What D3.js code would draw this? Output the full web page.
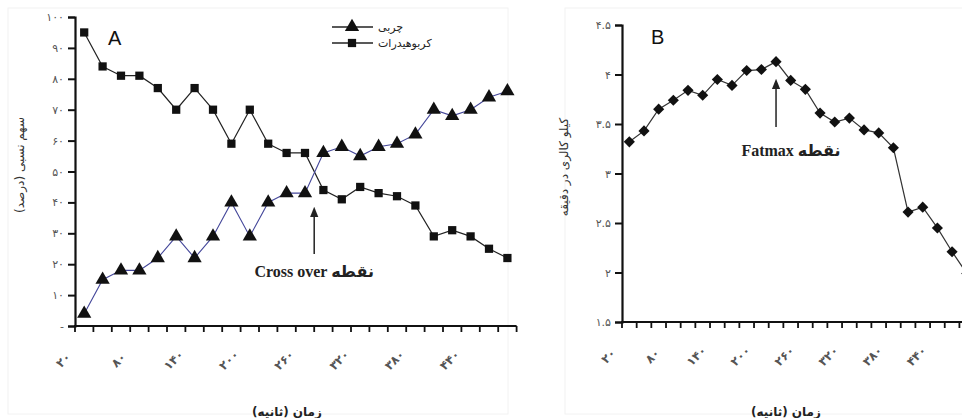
<!DOCTYPE html>
<html>
<head>
<meta charset="utf-8">
<script src="https://cdn.jsdelivr.net/npm/d3@7"></script>
<style>
  body { margin: 0; background: #fff; }
  svg { display: block; }
</style>
</head>
<body>
<svg width="962" height="418"></svg>
<script>
// time categories (seconds)
var seconds = [20, 40, 60, 80, 100, 120, 140, 160, 180, 200, 220, 240,
               260, 280, 300, 320, 340, 360, 380, 400, 420, 440, 460, 480];
var shownSeconds = [20, 80, 140, 200, 260, 320, 380, 440];

// panel A - relative share (%)
var fatShare = [4, 15, 18, 18, 22, 29, 22, 29, 40, 29, 40, 43,
                43, 56, 58, 55, 58, 59, 62, 70, 68, 70, 74, 76];
var choShare = [95, 84, 81, 81, 77, 70, 77, 70, 59, 70, 59, 56,
                56, 44, 41, 45, 43, 42, 39, 29, 31, 29, 25, 22];
var percentTicks = [0, 10, 20, 30, 40, 50, 60, 70, 80, 90, 100];

// panel B - kcal per minute
var kcalPerMin = [3.32, 3.43, 3.65, 3.74, 3.84, 3.79, 3.95, 3.89, 4.04, 4.05, 4.13, 3.94,
                  3.85, 3.61, 3.52, 3.56, 3.44, 3.41, 3.26, 2.61, 2.66, 2.45, 2.21, 1.99];
var kcalTicks = [1.5, 2, 2.5, 3, 3.5, 4, 4.5];

var faFont = "'DejaVu Sans', sans-serif";

function toFa(v) {
    return String(v).replace(/[0-9]/g, function (d) { return "۰۱۲۳۴۵۶۷۸۹"[+d]; });
}

var svg = d3.select("svg");

// faint panel frames
svg.append("rect").attr("x", 8).attr("y", 8).attr("width", 500).attr("height", 406)
    .attr("fill", "none").attr("stroke", "#f2f2f2");
svg.append("rect").attr("x", 565).attr("y", 8).attr("width", 400).attr("height", 406)
    .attr("fill", "none").attr("stroke", "#f2f2f2");

var defs = svg.append("defs");
defs.append("marker").attr("id", "arrow").attr("viewBox", "0 0 10 10")
    .attr("refX", 5).attr("refY", 5).attr("markerWidth", 7).attr("markerHeight", 9)
    .attr("orient", "auto")
    .append("path").attr("d", "M0,1 L10,5 L0,9 Z").attr("fill", "#222");

function drawAxes(g, x, y, ticks, fmt, xAxisY) {
    // y axis
    var ya = d3.axisLeft(y).tickValues(ticks).tickSize(7).tickFormat(fmt);
    var yg = g.append("g").attr("transform", "translate(" + x.range()[0] + ",0)").call(ya);
    yg.select(".domain").attr("stroke", "#111").attr("stroke-width", 2.2);
    yg.selectAll(".tick line").attr("stroke", "#111").attr("stroke-width", 2);
    yg.selectAll("text").attr("font-family", faFont).attr("font-size", 11)
        .attr("fill", "#555").attr("x", -11);

    // x axis: ticks between categories
    var xa = g.append("g").attr("transform", "translate(0," + xAxisY + ")");
    xa.append("line").attr("x1", x.range()[0] - 1).attr("x2", x.range()[1])
        .attr("stroke", "#111").attr("stroke-width", 2.2);
    var bounds = d3.range(seconds.length + 1);
    xa.selectAll(".tk").data(bounds).enter().append("line")
        .attr("x1", function (i) { return x.range()[0] + i * x.step(); })
        .attr("x2", function (i) { return x.range()[0] + i * x.step(); })
        .attr("y1", 0).attr("y2", 6)
        .attr("stroke", "#111").attr("stroke-width", 1.8);
    xa.selectAll(".lbl").data(shownSeconds).enter().append("text")
        .attr("transform", function (d) {
            return "translate(" + (x(d) + x.bandwidth() / 2 - 18) + ",37) rotate(-45)";
        })
        .attr("text-anchor", "middle")
        .attr("font-family", faFont).attr("font-size", 12).attr("font-weight", "bold")
        .attr("fill", "#555")
        .text(function (d) { return toFa(d); });
}

// ---------- panel A ----------
var gA = svg.append("g");
var xA = d3.scaleBand().domain(seconds).range([75, 75 + 24 * 18.4]);
var yA = d3.scaleLinear().domain([0, 100]).range([326, 17]);
drawAxes(gA, xA, yA, percentTicks, function (d) { return d === 0 ? "-" : toFa(d); }, 326);

var cxA = function (d, i) { return xA(seconds[i]) + xA.bandwidth() / 2; };

gA.append("path").datum(choShare)
    .attr("fill", "none").attr("stroke", "#222").attr("stroke-width", 1.2)
    .attr("d", d3.line().x(cxA).y(function (d) { return yA(d); }));
gA.append("path").datum(fatShare)
    .attr("fill", "none").attr("stroke", "#44479a").attr("stroke-width", 1.1)
    .attr("d", d3.line().x(cxA).y(function (d) { return yA(d); }));

var square = d3.symbol().type(d3.symbolSquare).size(68);
var triangle = d3.symbol().type(d3.symbolTriangle).size(88);
var diamond = d3.symbol().type(d3.symbolSquare).size(62);

gA.selectAll(".cho").data(choShare).enter().append("path")
    .attr("d", square)
    .attr("transform", function (d, i) { return "translate(" + cxA(d, i) + "," + yA(d) + ")"; })
    .attr("fill", "#111");
gA.selectAll(".fat").data(fatShare).enter().append("path")
    .attr("d", triangle)
    .attr("transform", function (d, i) { return "translate(" + cxA(d, i) + "," + yA(d) + ")"; })
    .attr("fill", "#111");

gA.append("text").attr("x", 108).attr("y", 45).attr("font-family", "Arial, 'Liberation Sans', sans-serif")
    .attr("font-size", 20).attr("fill", "#111").text("A");

// legend
var legA = gA.append("g");
[{ sym: triangle, y: 27, text: "چربی" },
 { sym: square, y: 43, text: "کربوهیدرات" }].forEach(function (l) {
    legA.append("line").attr("x1", 332).attr("x2", 373).attr("y1", l.y).attr("y2", l.y)
        .attr("stroke", "#222").attr("stroke-width", 1.3);
    legA.append("path").attr("d", l.sym).attr("transform", "translate(352," + l.y + ")").attr("fill", "#111");
    legA.append("text").attr("x", 378).attr("y", l.y + 4).attr("font-family", faFont)
        .attr("font-size", 11).attr("fill", "#222").text(l.text);
});

// crossover annotation
var crossX = xA(seconds[13]);
gA.append("line").attr("x1", crossX).attr("x2", crossX).attr("y1", 254).attr("y2", 212)
    .attr("stroke", "#222").attr("stroke-width", 1.5).attr("marker-end", "url(#arrow)");
gA.append("text").attr("x", crossX).attr("y", 277).attr("text-anchor", "middle")
    .attr("font-family", "'Liberation Serif', 'DejaVu Sans', serif").attr("font-weight", "bold")
    .attr("font-size", 16).attr("fill", "#222").text("Cross over نقطه");

gA.append("text").attr("transform", "translate(24,165) rotate(-90)")
    .attr("text-anchor", "middle").attr("font-family", faFont).attr("font-size", 12)
    .attr("fill", "#333").text("سهم نسبی (درصد)");
gA.append("text").attr("x", 287).attr("y", 416).attr("text-anchor", "middle")
    .attr("font-family", faFont).attr("font-size", 12).attr("font-weight", "bold")
    .attr("fill", "#222").text("زمان (ثانیه)");

// ---------- panel B ----------
var gB = svg.append("g");
var xB = d3.scaleBand().domain(seconds).range([622, 622 + 24 * 14.67]);
var yB = d3.scaleLinear().domain([1.5, 4.5]).range([322, 25]);
drawAxes(gB, xB, yB, kcalTicks, function (d) { return toFa(d); }, 322);

var cxB = function (d, i) { return xB(seconds[i]) + xB.bandwidth() / 2; };

gB.append("path").datum(kcalPerMin)
    .attr("fill", "none").attr("stroke", "#333").attr("stroke-width", 1.2)
    .attr("d", d3.line().x(cxB).y(function (d) { return yB(d); }));
gB.selectAll(".kc").data(kcalPerMin).enter().append("path")
    .attr("d", diamond)
    .attr("transform", function (d, i) { return "translate(" + cxB(d, i) + "," + yB(d) + ") rotate(45)"; })
    .attr("fill", "#111");

gB.append("text").attr("x", 651).attr("y", 44).attr("font-family", "Arial, 'Liberation Sans', sans-serif")
    .attr("font-size", 20).attr("fill", "#111").text("B");

var fatmaxX = xB(seconds[10]) + xB.bandwidth() / 2;
gB.append("line").attr("x1", fatmaxX).attr("x2", fatmaxX).attr("y1", 127).attr("y2", 84)
    .attr("stroke", "#222").attr("stroke-width", 1.5).attr("marker-end", "url(#arrow)");
gB.append("text").attr("x", 791).attr("y", 156).attr("text-anchor", "middle")
    .attr("font-family", "'Liberation Serif', 'DejaVu Sans', serif").attr("font-weight", "bold")
    .attr("font-size", 16).attr("fill", "#222").text("Fatmax نقطه");

gB.append("text").attr("transform", "translate(568,167) rotate(-90)")
    .attr("text-anchor", "middle").attr("font-family", faFont).attr("font-size", 12)
    .attr("fill", "#333").text("کیلو کالری در دقیقه");
gB.append("text").attr("x", 786).attr("y", 416).attr("text-anchor", "middle")
    .attr("font-family", faFont).attr("font-size", 12).attr("font-weight", "bold")
    .attr("fill", "#222").text("زمان (ثانیه)");
</script>
</body>
</html>
